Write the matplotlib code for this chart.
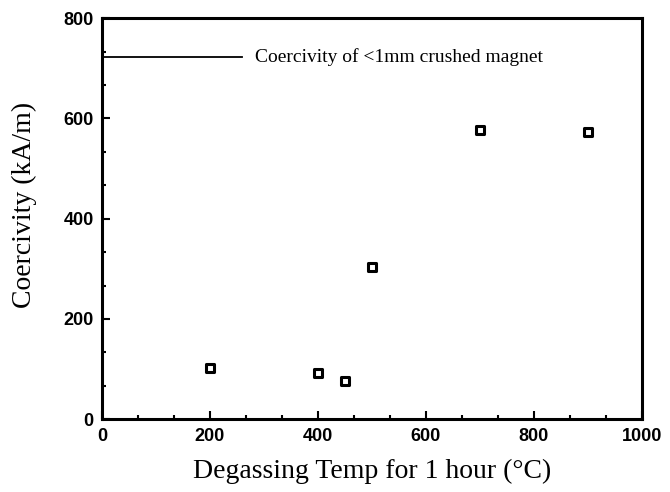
import matplotlib
matplotlib.use("Agg")
import matplotlib.pyplot as plt
from matplotlib.ticker import MultipleLocator

temps = [200, 400, 450, 500, 700, 900]
coercivity = [102, 92, 76, 303, 576, 572]
ref_value = 722
ref_x = [0, 260]
ref_label = "Coercivity of <1mm crushed magnet"

fig = plt.figure(figsize=(6.7, 4.92), dpi=100)
ax = fig.add_axes([0.152, 0.148, 0.806, 0.815])
ax.scatter(temps, coercivity, marker='s', s=40, facecolors='white', edgecolors='black', linewidths=2.2, zorder=3)
ax.plot(ref_x, [ref_value, ref_value], color='black', lw=1.3)
ax.text(283, ref_value, ref_label, va='center', ha='left', family='Liberation Serif', fontsize=14)

ax.set_xlim(0, 1000)
ax.set_ylim(0, 800)
ax.xaxis.set_major_locator(MultipleLocator(200))
ax.xaxis.set_minor_locator(MultipleLocator(200/3))
ax.yaxis.set_major_locator(MultipleLocator(200))
ax.yaxis.set_minor_locator(MultipleLocator(200/3))
ax.tick_params(which='both', direction='in', top=False, right=False, width=1.5)
ax.tick_params(which='major', length=6, labelsize=13, pad=6)
ax.tick_params(which='minor', length=3)
for lab in ax.get_xticklabels() + ax.get_yticklabels():
    lab.set_family('Liberation Sans')
    lab.set_fontweight('bold')
for s in ax.spines.values():
    s.set_linewidth(2.2)
ax.set_xlabel('Degassing Temp for 1 hour (°C)', family='Liberation Serif', fontsize=20, labelpad=10)
ax.set_ylabel('Coercivity (kA/m)', family='Liberation Serif', fontsize=20)
ax.yaxis.set_label_coords(-0.12, 0.534)
fig.savefig('out.png', dpi=100)
